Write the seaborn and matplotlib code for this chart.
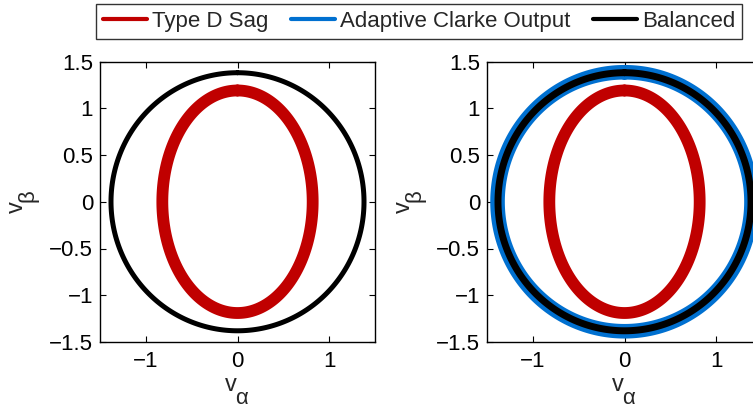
import numpy as np
import pandas as pd
import matplotlib
matplotlib.use("Agg")
import matplotlib.pyplot as plt
import seaborn as sns
from matplotlib.lines import Line2D

# ---- data (amplitudes of the alpha/beta components) ----
series_names = ["Type D Sag", "Adaptive Clarke Output", "Balanced"]
sag_alpha_amp, sag_beta_amp = 0.82, 1.19
adaptive_alpha_amp, adaptive_beta_amp = 1.385, 1.385
balanced_alpha_amp, balanced_beta_amp = 1.38, 1.38
tick_values = [-1, 0, 1]
ytick_values = [-1.5, -1, -0.5, 0, 0.5, 1, 1.5]
xtick_labels = ["\u22121", "0", "1"]
ytick_labels = ["\u22121.5", "\u22121", "\u22120.5", "0", "0.5", "1", "1.5"]
colors = {"Type D Sag": "#C00000", "Adaptive Clarke Output": "#0070D0", "Balanced": "#000000"}

# one electrical cycle, starting at the top of the trajectory
theta = np.linspace(np.pi / 2, np.pi / 2 + 2 * np.pi, 721)

def curve(name, a, b):
    return pd.DataFrame({"va": a * np.cos(theta), "vb": b * np.sin(theta), "series": name})

sns.set_theme(style="white")
plt.rcParams["font.family"] = ["Liberation Sans", "DejaVu Sans"]
plt.rcParams["path.simplify"] = False

fig = plt.figure(figsize=(7.53, 4.08), dpi=100)
W, H = 753, 408
def axpos(x0, x1, y0, y1):
    return [x0 / W, 1 - y1 / H, (x1 - x0) / W, (y1 - y0) / H]

ax1 = fig.add_axes(axpos(100, 375, 61.5, 342))
ax2 = fig.add_axes(axpos(487, 762, 61.5, 342))

sag = curve(series_names[0], sag_alpha_amp, sag_beta_amp)
adap = curve(series_names[1], adaptive_alpha_amp, adaptive_beta_amp)
bal = curve(series_names[2], balanced_alpha_amp, balanced_beta_amp)

kw = dict(x="va", y="vb", sort=False, estimator=None, solid_capstyle="round", solid_joinstyle="round")
# left panel
sns.lineplot(data=bal, color=colors["Balanced"], lw=3.6, ax=ax1, **kw)
sns.lineplot(data=sag, color=colors["Type D Sag"], lw=8.5, ax=ax1, **kw)
# right panel
sns.lineplot(data=adap, color=colors["Adaptive Clarke Output"], lw=10.5, ax=ax2, **kw)
sns.lineplot(data=bal, color=colors["Balanced"], lw=5.0, ax=ax2, **kw)
sns.lineplot(data=sag, color=colors["Type D Sag"], lw=8.5, ax=ax2, **kw)

fs = 16
for ax in (ax1, ax2):
    ax.set_xlim(-1.5, 1.5)
    ax.set_ylim(-1.5, 1.5)
    ax.set_xticks(tick_values)
    ax.set_yticks(ytick_values)
    ax.set_xticklabels(xtick_labels)
    ax.set_yticklabels(ytick_labels)
    ax.tick_params(direction="in", length=4, width=0.8, colors="black", labelsize=fs,
                   top=True, right=True, bottom=True, left=True)
    ax.tick_params(axis="x", pad=6.5)
    ax.tick_params(axis="y", pad=5)
    for s in ax.spines.values():
        s.set_color("black")
        s.set_linewidth(1.0)
        s.set_visible(True)
    ax.set_xlabel("")
    ax.set_ylabel("")
    ax.set_facecolor("white")

# axis labels: v with a large subscript, as in the reference
lab_fs = 17
def px(x, y):
    return x / W, 1 - y / H
for dx in (0, 387):
    fig.text(*px(231 + dx, 385), "v", fontsize=lab_fs, ha="center", va="center")
    fig.text(*px(241.5 + dx, 399), "\u03b1", fontsize=lab_fs - 1, ha="center", va="center")
    fig.text(*px(16.5 + dx, 207), "v", fontsize=lab_fs, ha="center", va="center", rotation=90)
    fig.text(*px(28 + dx, 196), "\u03b2", fontsize=lab_fs - 1, ha="center", va="center", rotation=90)

handles = [Line2D([], [], color=colors[n], lw=3) for n in series_names]
leg = fig.legend(handles, series_names, loc="center", bbox_to_anchor=(419 / W, 1 - 21.5 / H),
                 ncol=3, frameon=True, fontsize=fs, handlelength=2.0, handletextpad=0.22,
                 columnspacing=1.0, borderpad=0.3, borderaxespad=0, fancybox=False, edgecolor="black")
leg.get_frame().set_linewidth(1.0)

fig.savefig("out.png", dpi=100, facecolor="white")
